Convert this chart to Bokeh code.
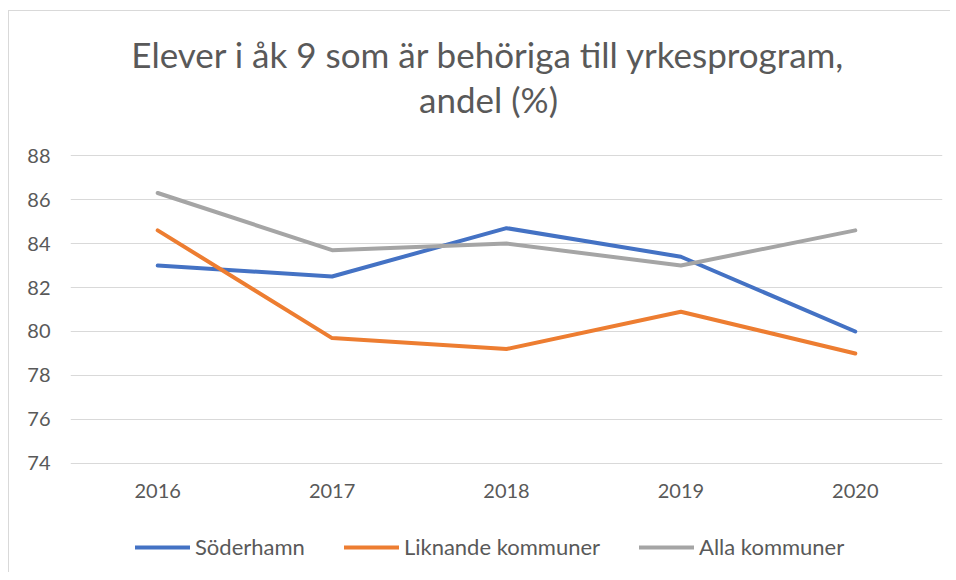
from bokeh.plotting import figure
from bokeh.layouts import column
from bokeh.models import Label, Legend, LegendItem, ColumnDataSource, FixedTicker, Range1d
from bokeh.embed import file_html
from bokeh.resources import INLINE

years = ["2016", "2017", "2018", "2019", "2020"]
soderhamn = [83.0, 82.5, 84.7, 83.4, 80.0]
liknande = [84.6, 79.7, 79.2, 80.9, 79.0]
alla = [86.3, 83.7, 84.0, 83.0, 84.6]
y_ticks = [74, 76, 78, 80, 82, 84, 86, 88]
series_names = ["Söderhamn", "Liknande kommuner", "Alla kommuner"]
series_values = [soderhamn, liknande, alla]
colors = ["#4472C4", "#ED7D31", "#A5A5A5"]
title_lines = ["Elever i åk 9 som är behöriga till yrkesprogram,", "andel (%)"]

FONT = "Lato"
TXT = "#595959"


def blank_strip(height):
    f = figure(width=941, height=height, x_range=Range1d(0, 1), y_range=Range1d(0, 1),
               output_backend="svg", toolbar_location=None,
               x_axis_location=None, y_axis_location=None,
               min_border_left=61, min_border_right=8, min_border_top=0, min_border_bottom=0,
               background_fill_color="white", border_fill_color="white")
    f.outline_line_color = None
    f.xgrid.grid_line_color = None
    f.ygrid.grid_line_color = None
    return f


# title strip
tf = blank_strip(123)
for txt, yy in zip(title_lines, [81, 36]):
    tf.add_layout(Label(x=418, y=yy, x_units="screen", y_units="screen", text=txt,
                        text_align="center", text_baseline="middle", text_font=FONT,
                        text_font_size="35px", text_color=TXT))

# main chart
p = figure(x_range=years, y_range=Range1d(73.95, 88.05), width=941, height=374,
           output_backend="svg", toolbar_location=None,
           min_border_left=61, min_border_right=8, min_border_top=20,
           min_border_bottom=44, background_fill_color="white",
           border_fill_color="white")
p.outline_line_color = None
p.title = None

for name, vals, col in zip(series_names, series_values, colors):
    src = ColumnDataSource(dict(x=years, y=vals))
    p.line("x", "y", source=src, line_color=col, line_width=4, line_join="round", line_cap="round")

p.yaxis.ticker = FixedTicker(ticks=y_ticks)
for ax in (p.xaxis[0], p.yaxis[0]):
    ax.axis_line_color = None
    ax.major_tick_line_color = None
    ax.minor_tick_line_color = None
    ax.major_tick_out = 0
    ax.major_tick_in = 0
    ax.minor_tick_out = 0
    ax.major_label_text_font = FONT
    ax.major_label_text_font_size = "20px"
    ax.major_label_text_color = TXT
p.xaxis.major_label_standoff = 19
p.yaxis.major_label_standoff = 20

p.xgrid.grid_line_color = None
p.ygrid.grid_line_color = "#d9d9d9"
p.ygrid.grid_line_width = 1

# legend strip below the chart
lg = blank_strip(64)
nan = float("nan")
items = []
for name, col in zip(series_names, colors):
    r = lg.line(x=[nan], y=[nan], line_color=col, line_width=4, line_cap="round")
    items.append(LegendItem(label=name, renderers=[r]))
legend = Legend(items=items, orientation="horizontal", location=(65, 12),
                label_text_font=FONT, label_text_font_size="22px", label_text_color=TXT,
                glyph_width=55, glyph_height=24, spacing=39, label_standoff=5,
                border_line_color=None, background_fill_alpha=0, margin=0, padding=0)
lg.add_layout(legend)

layout = column(tf, p, lg, spacing=0)
layout.styles = {"margin-left": "8px", "margin-top": "10px",
                 "border-left": "1px solid #d9d9d9", "border-top": "1px solid #d9d9d9"}
open("out.html", "w").write(file_html(layout, INLINE))
